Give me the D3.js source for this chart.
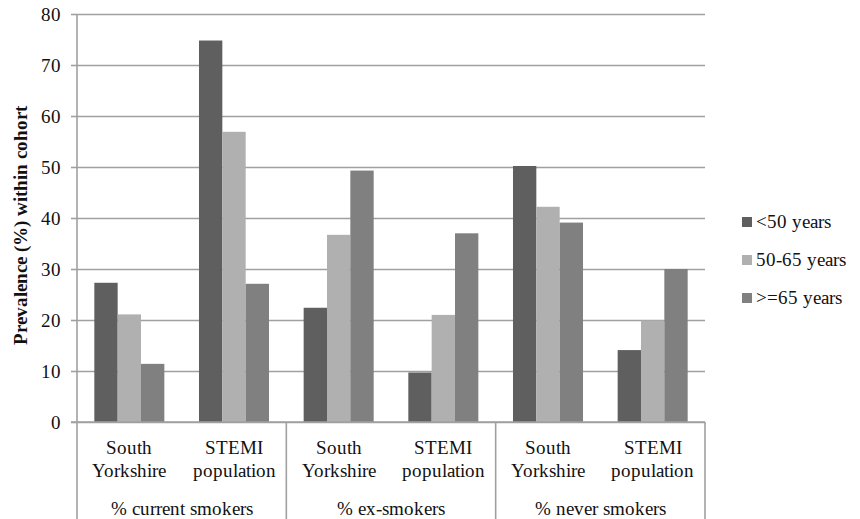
<!DOCTYPE html>
<html><head><meta charset="utf-8">
<script src="https://cdn.jsdelivr.net/npm/d3@7"></script>
<style>
@font-face{font-family:"ChartSerif";src:local("Liberation Serif"),local("LiberationSerif"),local("Tinos"),local("Times New Roman");font-weight:400;}
@font-face{font-family:"ChartSerif";src:local("Liberation Serif Bold"),local("LiberationSerif-Bold"),local("Tinos Bold"),local("Times New Roman Bold");font-weight:700;}
body{margin:0;background:#fff}svg{display:block}
</style>
</head><body><svg id="c" width="860" height="519"></svg>
<script>
const groups = ["% current smokers", "% ex-smokers", "% never smokers"];
const subcats = ["South Yorkshire", "STEMI population"];
const series = ["<50 years", "50-65 years", ">=65 years"];
const under50 = [27.3, 74.8, 22.4, 9.7, 50.2, 14.1];
const mid5065 = [21.1, 56.9, 36.7, 21.0, 42.2, 19.9];
const over65 = [11.4, 27.1, 49.3, 37.0, 39.1, 30.0];
const yTicks = [0, 10, 20, 30, 40, 50, 60, 70, 80];
const colors = ["#5f5f5f", "#b0b0b0", "#808080"];

const FF = '"ChartSerif", "Liberation Serif", serif';
const svg = d3.select("#c");
const m = {l: 77, r: 705, t: 14, b: 422};
const cats = [];
groups.forEach((g, gi) => subcats.forEach((s, si) => cats.push({g, s, key: gi + "|" + si})));
const x = d3.scaleBand().domain(cats.map(c => c.key)).range([m.l, m.r]).paddingInner(0).paddingOuter(0);
const y = d3.scaleLinear().domain([0, 80]).range([m.b, m.t]);

function T(sel) { return sel.style("font-family", FF).attr("font-size", 19).attr("fill", "#111"); }

function draw() {
  // gridlines + y tick labels
  const ax = svg.append("g").attr("transform", `translate(${m.l},0)`)
    .call(d3.axisLeft(y).tickValues(yTicks).tickSize(-(m.r - m.l)).tickPadding(16).tickFormat(d3.format("d")));
  ax.attr("font-family", null).attr("font-size", null);
  ax.select(".domain").remove();
  ax.selectAll(".tick line").attr("stroke", "#a0a0a0").attr("stroke-width", 1.6);
  T(ax.selectAll(".tick text"));
  ax.selectAll(".tick").append("line").attr("x1", -6).attr("x2", 0).attr("stroke", "#a0a0a0").attr("stroke-width", 1.6);

  // bars
  const vals = [under50, mid5065, over65];
  const bw = x.bandwidth() * 0.223;
  const gw = bw * 3;
  series.forEach((s, si) => {
    svg.append("g").selectAll("rect").data(cats).join("rect")
      .attr("x", c => x(c.key) + (x.bandwidth() - gw) / 2 + si * bw)
      .attr("width", bw)
      .attr("y", (c, i) => y(vals[si][i]))
      .attr("height", (c, i) => y(0) - y(vals[si][i]))
      .attr("fill", colors[si]);
  });

  // axes lines
  svg.append("line").attr("x1", m.l).attr("x2", m.l).attr("y1", m.t).attr("y2", 519).attr("stroke", "#a0a0a0").attr("stroke-width", 1.6);
  svg.append("line").attr("x1", m.l - 6).attr("x2", m.r).attr("y1", m.b).attr("y2", m.b).attr("stroke", "#a0a0a0").attr("stroke-width", 1.6);
  groups.forEach((g, gi) => {
    const xr = x(gi + "|1") + x.bandwidth();
    svg.append("line").attr("x1", xr).attr("x2", xr).attr("y1", m.b).attr("y2", 519).attr("stroke", "#a0a0a0").attr("stroke-width", 1.6);
    const cx = x(gi + "|0") + x.bandwidth();
    T(svg.append("text").attr("x", cx).attr("y", 515).attr("text-anchor", "middle")).text(g);
  });
  cats.forEach(c => {
    const cx = x(c.key) + x.bandwidth() / 2;
    const parts = c.s.split(" ");
    T(svg.append("text").attr("x", cx).attr("y", 454).attr("text-anchor", "middle")).text(parts[0]);
    T(svg.append("text").attr("x", cx).attr("y", 477).attr("text-anchor", "middle")).text(parts[1]);
  });

  // y title
  T(svg.append("text").attr("transform", `translate(27,${(m.t + m.b) / 2 + 7}) rotate(-90)`)
    .attr("text-anchor", "middle")).attr("font-weight", "bold").text("Prevalence (%) within cohort");

  // legend
  const lg = svg.append("g");
  series.forEach((s, i) => {
    const yy = 222 + i * 38;
    lg.append("rect").attr("x", 742).attr("y", yy - 5).attr("width", 10).attr("height", 10).attr("fill", colors[i]);
    T(lg.append("text").attr("x", 756).attr("y", yy + 6)).text(s);
  });
}
draw();
</script></body></html>
